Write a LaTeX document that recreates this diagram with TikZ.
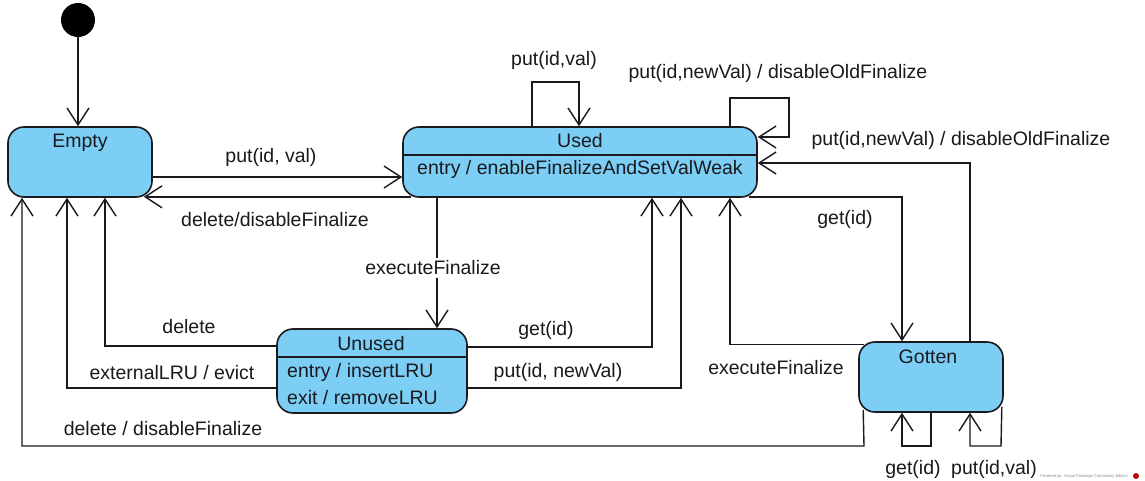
\documentclass[tikz,border=0pt]{standalone}
\usepackage{fontspec}
\setmainfont{Liberation Sans}
\usetikzlibrary{arrows.meta}
\definecolor{stfill}{RGB}{124,206,245}
\definecolor{ink}{RGB}{25,25,30}
\begin{document}
\begin{tikzpicture}[x=1pt,y=-1pt,
  state/.style={draw=ink, fill=stfill, rounded corners=16pt, line width=1.6pt, inner sep=0pt},
  lbl/.style={font=\fontsize{19.5}{23}\selectfont, text=ink, inner sep=0pt},
  tr/.style={draw=ink, line width=1.4pt, -{Straight Barb[length=17pt,width=22pt]}},
  ln/.style={draw=ink, line width=1.4pt}]
\useasboundingbox (0,0) rectangle (1145,480);
\fill[white] (0,0) rectangle (1145,480);

% states
\node[circle, fill=black, minimum size=34pt, inner sep=0] (init) at (78,20) {};
\node[state, minimum width=144pt, minimum height=70pt] (empty) at (80,162) {};
\node[state, minimum width=354pt, minimum height=70pt] (used) at (580,162) {};
\node[state, minimum width=190pt, minimum height=84pt] (unused) at (372,371) {};
\node[state, minimum width=144pt, minimum height=70pt] (gotten) at (931,377) {};

\node[lbl] (emptyT) at (80,143) {Empty};
\node[lbl] (usedT) at (580,141) {Used};
\draw[ln, line width=1.2pt] (used.west |- 0,155) -- (used.east |- 0,155);
\node[lbl] (usedE) at (580,169) {entry / enableFinalizeAndSetValWeak};
\node[lbl] (unusedT) at (371,344) {Unused};
\draw[ln, line width=1.2pt] (unused.west |- 0,357) -- (unused.east |- 0,357);
\node[lbl, anchor=west] (unusedE) at (287,372) {entry / insertLRU};
\node[lbl, anchor=west] (unusedX) at (287,398) {exit / removeLRU};
\node[lbl] (gottenT) at (928,357) {Gotten};

% initial
\draw[tr] (init) -- (init |- empty.north);

% Empty <-> Used
\draw[tr] (empty.east |- 0,177) -- (used.west |- 0,177)
  node[lbl] (l1) at (271,157) {put(id, val)};
\draw[tr] ([shift={(9,-1)}]used.south west) -- ([shift={(-9,-1)}]empty.south east);
\node[lbl] (l2) at (275,220) {delete/disableFinalize};

% Used self loops
\draw[tr] (used.north -| 532,0) -- (532,82) -| (used.north -| 579,0);
\node[lbl] (l3) at (554,60) {put(id,val)};
\draw[tr] (used.north -| 730,0) -- (730,98) -- (789,98) -- (789,137) -- (used.east |- 0,137);
\node[lbl] (l4) at (778,73) {put(id,newVal) / disableOldFinalize};

% Gotten -> Used put
\draw[tr] (gotten.north -| 970,0) |- (used.east |- 0,163);
\node[lbl] (l5) at (961,140) {put(id,newVal) / disableOldFinalize};

% Used -> Gotten get
\draw[tr] ([shift={(-9,-1)}]used.south east) -| (gotten.north -| 902,0);
\node[lbl] (l6) at (845,219) {get(id)};

% Gotten -> Used executeFinalize
\draw[tr] ([shift={(6,3)}]gotten.north west) -| (used.south -| 730,0);
\node[lbl] (l7) at (776,368) {executeFinalize};

% Used -> Unused executeFinalize
\draw[tr] (used.south -| 437,0) -- (unused.north -| 437,0);
\node[lbl, fill=white, inner sep=3pt] (l8) at (433,268) {executeFinalize};

% Unused -> Used
\draw[tr] (unused.east |- 0,347) -| (used.south -| 652,0);
\node[lbl] (l9) at (546,330) {get(id)};
\draw[tr] (unused.east |- 0,388) -| (used.south -| 681,0);
\node[lbl] (l10) at (558,372) {put(id, newVal)};

% Unused -> Empty
\draw[tr] (unused.west |- 0,346) -| (empty.south -| 105,0);
\node[lbl] (l11) at (189,327) {delete};
\draw[tr] (unused.west |- 0,388) -| (empty.south -| 67,0);
\node[lbl] (l12) at (172,373) {externalLRU / evict};

% Gotten -> Empty
\draw[tr] ([shift={(5,-3)}]gotten.south west) -- (864,446) -| (empty.south -| 22,0);
\node[lbl] (l13) at (163,429) {delete / disableFinalize};

% Gotten self loops
\draw[tr] (gotten.south -| 931,0) |- (902,446) -- (gotten.south -| 902,0);
\node[lbl] (l14) at (913,469) {get(id)};
\draw[tr] ([shift={(-2,-6)}]gotten.south east) -- (1001,446) -| (gotten.south -| 970,0);
\node[lbl] (l15) at (994,469) {put(id,val)};

% watermark
\node[font=\fontsize{4}{5}\selectfont, text=black!45, inner sep=0, anchor=east] (wm) at (1128,476) {Powered by: Visual Paradigm Community Edition};
\fill[red!75!black] (1136,476) circle (3);
\end{tikzpicture}
\end{document}
